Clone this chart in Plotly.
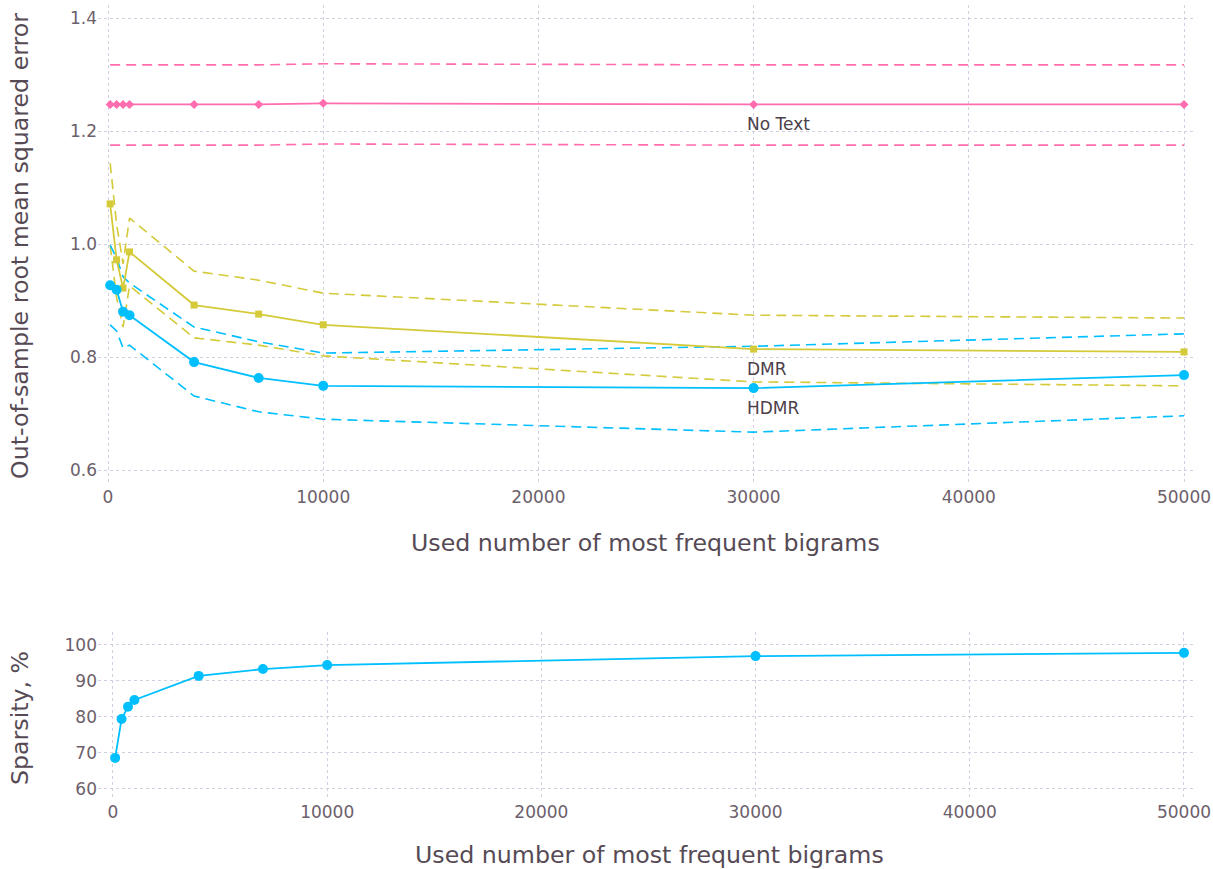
import plotly.graph_objects as go
from plotly.subplots import make_subplots

# Number of most frequent bigrams used as features
bigrams = [100, 400, 700, 1000, 4000, 7000, 10000, 30000, 50000]

# Out-of-sample RMSE: mean and band (upper / lower)
notext_mean = [1.247, 1.247, 1.247, 1.247, 1.247, 1.247, 1.249, 1.247, 1.247]
notext_hi = [1.317, 1.317, 1.317, 1.317, 1.317, 1.317, 1.319, 1.317, 1.317]
notext_lo = [1.175, 1.175, 1.175, 1.175, 1.175, 1.175, 1.177, 1.175, 1.175]

dmr_mean = [1.071, 0.972, 0.922, 0.986, 0.892, 0.876, 0.857, 0.814, 0.809]
dmr_hi = [1.143, 1.035, 0.965, 1.046, 0.952, 0.936, 0.913, 0.874, 0.869]
dmr_lo = [0.998, 0.905, 0.853, 0.926, 0.834, 0.821, 0.802, 0.756, 0.749]

hdmr_mean = [0.927, 0.919, 0.880, 0.874, 0.791, 0.763, 0.749, 0.745, 0.768]
hdmr_hi = [0.998, 0.975, 0.942, 0.931, 0.853, 0.827, 0.807, 0.819, 0.841]
hdmr_lo = [0.857, 0.846, 0.816, 0.821, 0.731, 0.703, 0.690, 0.667, 0.696]

# Sparsity of the HDMR solution, %
sparsity = [68.6, 79.4, 82.8, 84.7, 91.4, 93.3, 94.4, 96.9, 97.8]

x_ticks = [0, 10000, 20000, 30000, 40000, 50000]
rmse_ticks = [0.6, 0.8, 1.0, 1.2, 1.4]
sparsity_ticks = [60, 70, 80, 90, 100]

PINK = "#FF6DAE"
YELLOW = "#D4CA3A"
BLUE = "#00BFFF"
TICK = "#6c606b"
TITLE = "#564a55"
GRID = "#D0D0E0"
FONT = "DejaVu Sans"

W, H = 1213, 869
ML, MR, MT, MB = 98, 18, 5, 69
PH = H - MT - MB

fig = make_subplots(rows=2, cols=1)
fig.update_layout(
    xaxis=dict(domain=[0, 1]), xaxis2=dict(domain=[0, 1]),
    yaxis=dict(domain=[(H - MB - 485) / PH, 1.0]),
    yaxis2=dict(domain=[0, (H - MB - 632) / PH]),
)


def band(y, color, row):
    fig.add_trace(go.Scatter(
        x=bigrams, y=y, mode="lines",
        line=dict(color=color, width=1.6, dash="10px,6px"),
        hoverinfo="skip", showlegend=False), row=row, col=1)


for hi, lo, c in [(notext_hi, notext_lo, PINK), (dmr_hi, dmr_lo, YELLOW),
                  (hdmr_hi, hdmr_lo, BLUE)]:
    band(hi, c, 1)
    band(lo, c, 1)

fig.add_trace(go.Scatter(
    x=bigrams, y=notext_mean, mode="lines+markers", name="No Text",
    line=dict(color=PINK, width=1.8),
    marker=dict(symbol="diamond", size=7, color=PINK),
    showlegend=False), row=1, col=1)
fig.add_trace(go.Scatter(
    x=bigrams, y=dmr_mean, mode="lines+markers", name="DMR",
    line=dict(color=YELLOW, width=1.8),
    marker=dict(symbol="square", size=7, color=YELLOW),
    showlegend=False), row=1, col=1)
fig.add_trace(go.Scatter(
    x=bigrams, y=hdmr_mean, mode="lines+markers", name="HDMR",
    line=dict(color=BLUE, width=1.8),
    marker=dict(symbol="circle", size=10, color=BLUE),
    showlegend=False), row=1, col=1)

fig.add_trace(go.Scatter(
    x=bigrams, y=sparsity, mode="lines+markers", name="Sparsity",
    line=dict(color=BLUE, width=1.8),
    marker=dict(symbol="circle", size=10, color=BLUE),
    showlegend=False), row=2, col=1)

# Series labels next to the 30000 point
for name, series in [("No Text", notext_mean), ("DMR", dmr_mean),
                     ("HDMR", hdmr_mean)]:
    i = bigrams.index(30000)
    fig.add_annotation(
        x=bigrams[i], y=series[i], xref="x", yref="y", text=name,
        showarrow=False, xanchor="left", yanchor="middle",
        xshift=-9, yshift=-20,
        font=dict(family=FONT, size=17, color="#4c404b"))

axis_common = dict(
    showgrid=True, gridcolor=GRID, griddash="3px,3px", gridwidth=1,
    zeroline=False, showline=False, ticks="", automargin=False,
    tickfont=dict(family=FONT, size=17, color=TICK),
)

fig.update_xaxes(**axis_common)
fig.update_yaxes(**axis_common)

fig.update_xaxes(range=[-465, 50511], tickvals=x_ticks,
                 ticktext=[str(v) for v in x_ticks], row=1, col=1)
fig.update_xaxes(range=[-700, 50514], tickvals=x_ticks,
                 ticktext=[str(v) for v in x_ticks], row=2, col=1)
fig.update_yaxes(range=[0.5735, 1.423], tickvals=rmse_ticks,
                 ticktext=[f"{v:.1f}" for v in rmse_ticks], row=1, col=1)
fig.update_yaxes(range=[56.9, 103.6], tickvals=sparsity_ticks,
                 ticktext=[str(v) for v in sparsity_ticks], row=2, col=1)

# Axis titles, positioned in whole-figure pixels
for txt, x, y, ang in [
    ("Used number of most frequent bigrams", 645, 543, 0),
    ("Used number of most frequent bigrams", 649, 855, 0),
    ("Out-of-sample root mean squared error", 20, 246, -90),
    ("Sparsity, %", 20, 718, -90),
]:
    fig.add_annotation(
        x=(x - ML) / (W - ML - MR), y=(H - MB - y) / PH,
        xref="paper", yref="paper",
        text=txt, showarrow=False, textangle=ang,
        xanchor="center", yanchor="middle",
        font=dict(family=FONT, size=23.7, color=TITLE))

fig.update_layout(
    width=W, height=H,
    margin=dict(l=ML, r=MR, t=MT, b=MB, autoexpand=False),
    paper_bgcolor="white", plot_bgcolor="white",
    font=dict(family=FONT),
)

fig.write_html("out.html")
